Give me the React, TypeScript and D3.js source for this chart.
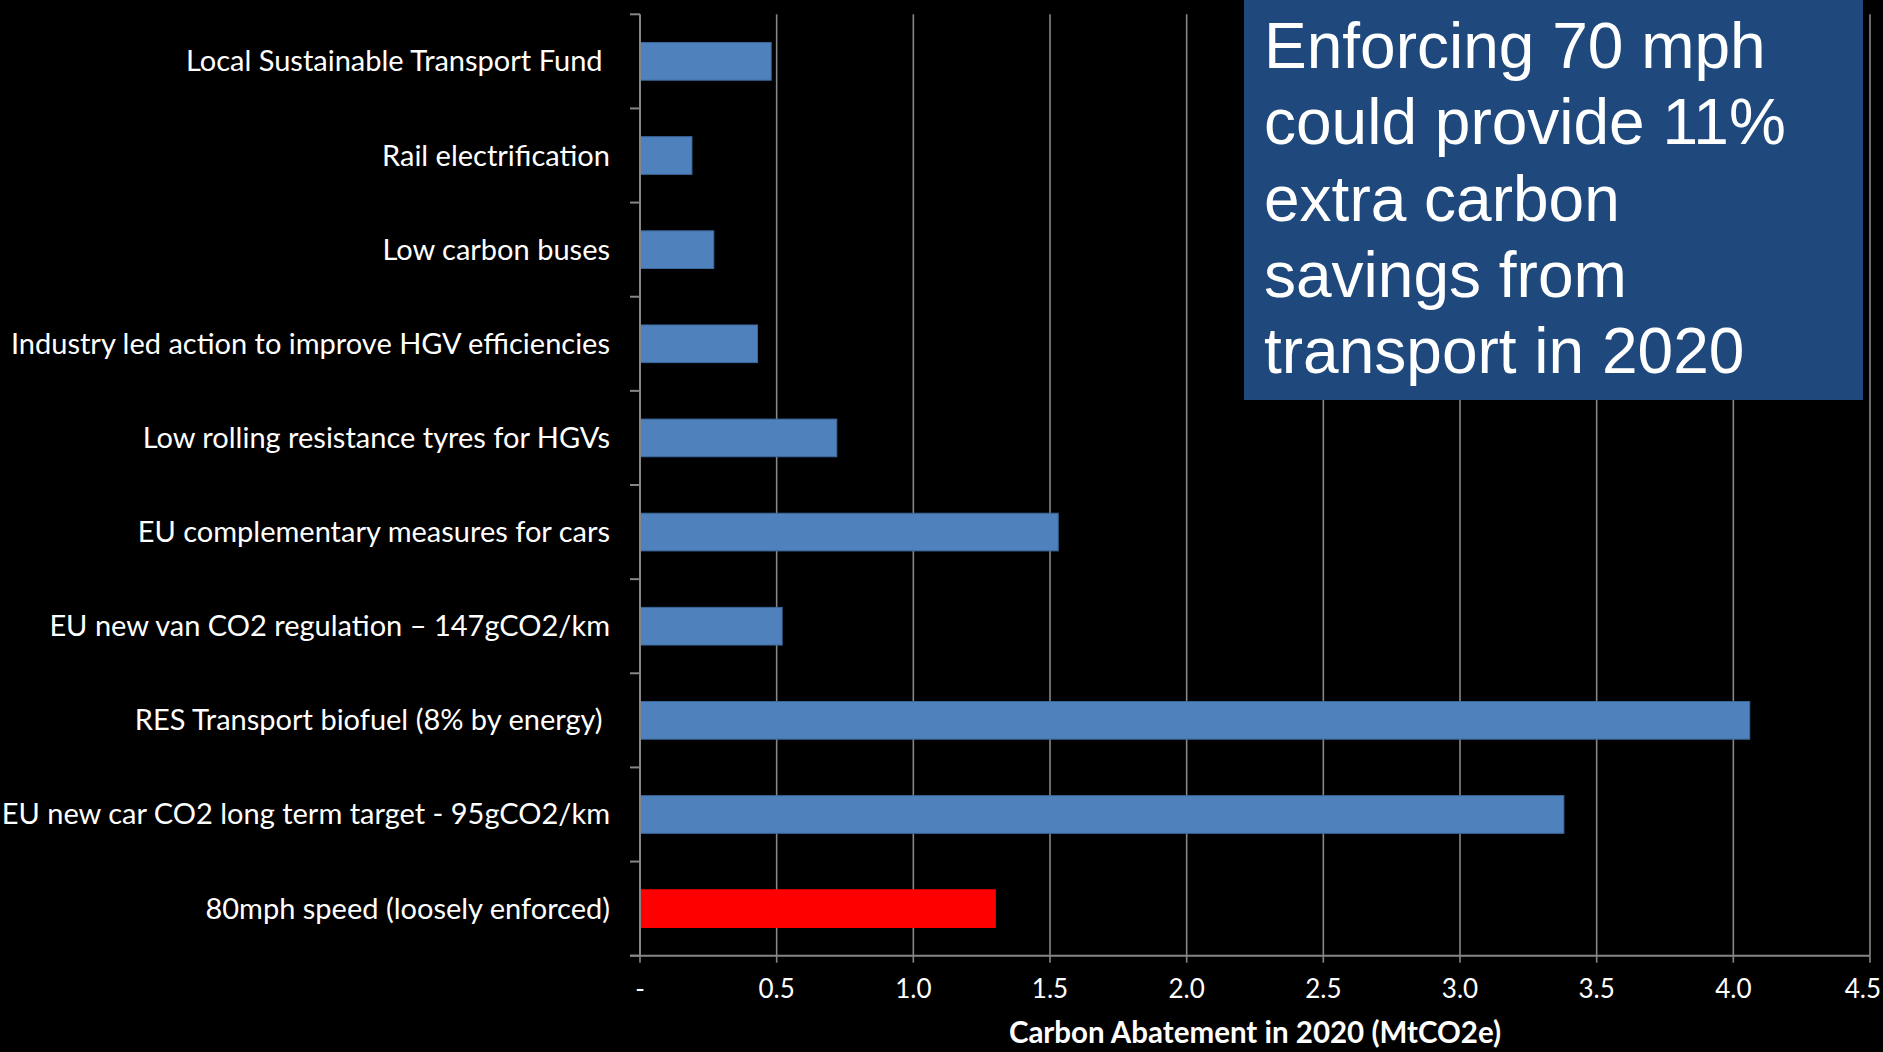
import React from "react";
import * as d3 from "d3";

const categories = [
  "Local Sustainable Transport Fund ",
  "Rail electrification",
  "Low carbon buses",
  "Industry led action to improve HGV efficiencies",
  "Low rolling resistance tyres for HGVs",
  "EU complementary measures for cars",
  "EU new van CO2 regulation \u2013 147gCO2/km",
  "RES Transport biofuel (8% by energy) ",
  "EU new car CO2 long term target - 95gCO2/km",
  "80mph speed (loosely enforced)",
];
const values = [0.48, 0.19, 0.27, 0.43, 0.72, 1.53, 0.52, 4.06, 3.38, 1.3];
const highlight = [false, false, false, false, false, false, false, false, false, true];
const xTicks = [0, 0.5, 1.0, 1.5, 2.0, 2.5, 3.0, 3.5, 4.0, 4.5];
const xTickLabels = ["-", "0.5", "1.0", "1.5", "2.0", "2.5", "3.0", "3.5", "4.0", "4.5"];
const xTitle = "Carbon Abatement in 2020 (MtCO2e)";
const calloutLines = [
  "Enforcing 70 mph",
  "could provide 11%",
  "extra carbon",
  "savings from",
  "transport in 2020",
];

const W = 1883;
const H = 1052;
const plot = { left: 640, right: 1870, top: 14.3, bottom: 955.7 };
const labelFont = "Lato, 'Open Sans', sans-serif";

export default function App() {
  const x = d3.scaleLinear().domain([0, 4.5]).range([plot.left, plot.right]);
  const y = d3
    .scaleBand<number>()
    .domain(d3.range(categories.length))
    .range([plot.top, plot.bottom])
    .paddingInner(0.6)
    .paddingOuter(0.3);
  const step = y.step();
  const boundaries = d3.range(categories.length + 1).map((i) => plot.top + i * step);
  const grid = "#868686";

  return (
    <svg
      width={W}
      height={H}
      style={{ position: "absolute", left: 0, top: 0, display: "block", background: "#000" }}
    >
      <rect x={0} y={0} width={W} height={H} fill="#000" />
      {/* vertical gridlines */}
      {xTicks.slice(1).map((t) => (
        <line key={"g" + t} x1={x(t)} x2={x(t)} y1={plot.top} y2={plot.bottom} stroke={grid} strokeWidth={1.6} />
      ))}
      {/* x ticks */}
      {xTicks.map((t) => (
        <line key={"t" + t} x1={x(t)} x2={x(t)} y1={plot.bottom} y2={plot.bottom + 7} stroke={grid} strokeWidth={1.6} />
      ))}
      {/* y ticks */}
      {boundaries.map((b, i) => (
        <line key={"yt" + i} x1={plot.left - 10} x2={plot.left} y1={b} y2={b} stroke={grid} strokeWidth={2} />
      ))}
      {/* bars */}
      {values.map((v, i) => (
        <rect
          key={"b" + i}
          x={x(0)}
          y={y(i)}
          width={x(v) - x(0)}
          height={y.bandwidth()}
          fill={highlight[i] ? "#FF0000" : "#4F81BD"}
          stroke={highlight[i] ? "#FF0000" : "#3C6A9E"}
          strokeWidth={1}
        />
      ))}
      {/* axes */}
      <line x1={plot.left} x2={plot.left} y1={plot.top} y2={plot.bottom} stroke={grid} strokeWidth={2} />
      <line x1={plot.left - 10} x2={plot.right} y1={plot.bottom} y2={plot.bottom} stroke={grid} strokeWidth={2} />
      {/* category labels */}
      {categories.map((c, i) => (
        <text
          key={"l" + i}
          x={610}
          y={(y(i) as number) + y.bandwidth() / 2 + 10}
          fill="#fff"
          fontFamily={labelFont}
          fontSize={29}
          textAnchor="end"
          style={{ whiteSpace: "pre" }}
        >
          {c}
        </text>
      ))}
      {/* x tick labels */}
      {xTicks.map((t, i) => {
        const last = i === xTicks.length - 1;
        return (
          <text
            key={"xl" + t}
            x={last ? W - 2 : x(t)}
            y={998}
            fill="#fff"
            fontFamily={labelFont}
            fontSize={26}
            textAnchor={last ? "end" : "middle"}
          >
            {xTickLabels[i]}
          </text>
        );
      })}
      <text
        x={1255}
        y={1043}
        fill="#fff"
        fontFamily={labelFont}
        fontWeight="bold"
        fontSize={29.5}
        textAnchor="middle"
      >
        {xTitle}
      </text>
      {/* callout box */}
      <rect x={1244} y={0} width={619} height={400} fill="#1F497D" />
      {calloutLines.map((l, i) => (
        <text
          key={"c" + i}
          x={1264}
          y={68 + i * 76.3}
          fill="#fff"
          fontFamily="'Liberation Sans', Arial, sans-serif"
          fontSize={64}
        >
          {l}
        </text>
      ))}
    </svg>
  );
}
